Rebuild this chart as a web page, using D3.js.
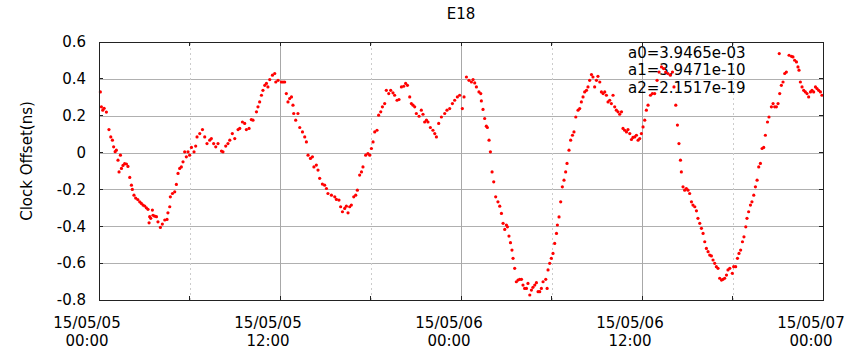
<!DOCTYPE html>
<html>
<head>
<meta charset="utf-8">
<script src="https://cdn.jsdelivr.net/npm/d3@7"></script>
<style>
  body { margin: 0; background: #fff; }
  svg { font-family: "DejaVu Sans", sans-serif; }
</style>
</head>
<body>
<div id="chart"></div>
<script>
// hours after 15/05/05 00:00
var hoursFromStart = [
  0.09,0.16,0.25,0.34,0.49,0.66,0.78,0.89,0.97,1.07,
  1.15,1.26,1.33,1.42,1.49,1.59,1.70,1.82,1.92,2.04,
  2.15,2.21,2.32,2.43,2.57,2.70,2.81,2.92,3.03,3.14,
  3.25,3.32,3.36,3.43,3.54,3.58,3.69,3.81,3.91,4.07,
  4.20,4.36,4.51,4.57,4.69,4.73,4.87,5.02,5.13,5.24,
  5.35,5.46,5.57,5.68,5.79,5.90,6.01,6.13,6.30,6.41,
  6.50,6.68,6.86,7.01,7.16,7.34,7.45,7.60,7.74,7.89,
  8.12,8.22,8.40,8.55,8.67,8.84,9.00,9.22,9.33,9.51,
  9.66,9.77,9.95,10.10,10.21,10.44,10.54,10.65,10.77,10.87,
  10.99,11.10,11.20,11.32,11.50,11.65,11.72,11.87,12.09,12.20,
  12.31,12.42,12.53,12.64,12.76,12.86,12.91,13.04,13.19,13.31,
  13.49,13.64,13.75,13.86,14.02,14.15,14.25,14.41,14.52,14.63,
  14.81,14.96,15.08,15.18,15.41,15.63,15.74,15.91,16.02,16.14,
  16.29,16.40,16.51,16.62,16.73,16.89,17.02,17.13,17.28,17.40,
  17.50,17.68,17.83,17.95,18.06,18.17,18.28,18.43,18.54,18.68,
  18.79,18.94,19.05,19.21,19.34,19.49,19.60,19.76,19.89,20.05,
  20.20,20.33,20.45,20.60,20.71,20.82,20.93,21.04,21.22,21.37,
  21.48,21.59,21.71,21.81,21.97,22.14,22.26,22.37,22.52,22.70,
  22.92,23.07,23.25,23.43,23.58,23.76,23.91,24.09,24.20,24.36,
  24.53,24.69,24.80,24.91,25.02,25.19,25.31,25.35,25.46,25.57,
  25.68,25.75,25.86,25.95,26.06,26.17,26.30,26.45,26.57,26.68,
  26.79,26.90,27.01,27.08,27.18,27.28,27.38,27.45,27.56,27.67,
  27.78,27.89,28.01,28.11,28.22,28.34,28.44,28.56,28.67,28.77,
  28.89,29.00,29.11,29.22,29.33,29.44,29.62,29.71,29.77,29.88,
  29.99,30.10,30.21,30.33,30.39,30.50,30.61,30.72,30.83,30.94,
  31.03,31.16,31.27,31.39,31.49,31.61,31.76,31.87,31.98,32.09,
  32.20,32.32,32.42,32.53,32.65,32.75,32.86,32.98,33.08,33.20,
  33.31,33.42,33.53,33.64,33.75,33.86,33.97,34.08,34.19,34.30,
  34.41,34.52,34.64,34.74,34.85,34.97,35.07,35.19,35.30,35.40,
  35.52,35.63,35.74,35.85,35.96,36.07,36.18,36.29,36.40,36.56,
  36.69,36.84,37.00,37.13,37.29,37.44,37.57,37.72,37.88,38.02,
  38.12,38.24,38.35,38.45,38.55,38.61,38.72,38.83,38.94,39.05,
  39.16,39.28,39.38,39.50,39.61,39.71,39.83,39.94,40.05,40.16,
  40.27,40.38,40.49,40.60,40.71,40.82,40.93,41.04,41.15,41.27,
  41.37,41.48,41.60,41.70,41.82,41.99,42.08,42.21,42.33,42.43,
  42.54,42.66,42.76,42.88,42.96,43.07,43.19,43.29,43.41,43.52,
  43.63,43.74,43.85,43.96,44.07,44.18,44.32,44.42,44.58,44.69,
  44.80,44.91,45.02,45.10,45.13,45.24,45.35,45.46,45.57,45.75,
  45.91,46.01,46.12,46.24,46.34,46.41,46.50,46.61,46.72,46.83,
  46.94,47.05,47.17,47.27,47.38,47.50,47.60,47.71,47.83,47.93
];

// clock offset in ns
var offsetNs = [
  0.329,0.248,0.23,0.24,0.22,0.125,0.085,0.067,0.031,0.005,
  0.013,-0.041,-0.105,-0.014,-0.086,-0.07,-0.06,-0.062,-0.075,-0.135,
  -0.177,-0.2,-0.231,-0.247,-0.255,-0.267,-0.276,-0.285,-0.29,-0.3,
  -0.308,-0.381,-0.348,-0.357,-0.312,-0.34,-0.345,-0.348,-0.376,-0.406,
  -0.388,-0.366,-0.363,-0.327,-0.294,-0.24,-0.222,-0.213,-0.173,-0.113,
  -0.086,-0.078,-0.05,0.004,-0.023,0.004,-0.014,0.028,0.004,0.035,
  0.085,0.103,0.125,0.085,0.049,0.067,0.076,0.049,0.031,0.049,
  0.008,0.004,0.035,0.049,0.067,0.103,0.076,0.125,0.131,0.166,
  0.158,0.125,0.131,0.179,0.176,0.221,0.248,0.275,0.311,0.338,
  0.365,0.375,0.356,0.396,0.42,0.429,0.383,0.392,0.383,0.383,
  0.383,0.32,0.275,0.293,0.302,0.257,0.212,0.176,0.212,0.136,
  0.112,0.085,0.058,-0.014,-0.032,-0.023,-0.078,-0.068,-0.095,-0.14,
  -0.171,-0.177,-0.195,-0.222,-0.231,-0.24,-0.254,-0.258,-0.294,-0.321,
  -0.303,-0.291,-0.327,-0.294,-0.285,-0.24,-0.231,-0.204,-0.122,-0.105,
  -0.078,-0.014,-0.005,-0.014,0.022,0.058,0.112,0.121,0.203,0.221,
  0.248,0.266,0.338,0.32,0.338,0.324,0.311,0.284,0.288,0.356,
  0.36,0.375,0.365,0.302,0.266,0.257,0.248,0.212,0.197,0.23,
  0.208,0.166,0.176,0.166,0.136,0.121,0.103,0.085,0.158,0.193,
  0.212,0.23,0.239,0.266,0.284,0.302,0.311,0.239,0.302,0.41,
  0.392,0.383,0.396,0.378,0.356,0.329,0.32,0.28,0.234,0.185,
  0.143,0.136,0.067,0.004,-0.105,-0.159,-0.24,-0.267,-0.291,-0.33,
  -0.384,-0.417,-0.393,-0.403,-0.453,-0.489,-0.529,-0.574,-0.628,-0.701,
  -0.692,-0.688,-0.688,-0.719,-0.737,-0.737,-0.71,-0.773,-0.746,-0.731,
  -0.719,-0.706,-0.755,-0.755,-0.737,-0.701,-0.688,-0.737,-0.637,-0.601,
  -0.574,-0.547,-0.493,-0.439,-0.393,-0.349,-0.267,-0.186,-0.15,-0.105,
  -0.059,0.013,0.067,0.094,0.112,0.193,0.23,0.239,0.275,0.302,
  0.329,0.338,0.356,0.392,0.423,0.41,0.356,0.392,0.414,0.383,
  0.329,0.32,0.329,0.311,0.275,0.284,0.266,0.311,0.248,0.23,
  0.221,0.208,0.221,0.131,0.121,0.112,0.125,0.103,0.071,0.082,
  0.085,0.094,0.067,0.076,0.103,0.139,0.176,0.23,0.257,0.311,
  0.32,0.32,0.392,0.437,0.465,0.456,0.437,0.429,0.42,0.437,
  0.356,0.257,0.149,0.049,-0.041,-0.105,-0.186,-0.204,-0.195,-0.204,
  -0.222,-0.267,-0.285,-0.294,-0.316,-0.357,-0.384,-0.411,-0.439,-0.484,
  -0.52,-0.538,-0.556,-0.561,-0.583,-0.601,-0.619,-0.628,-0.682,-0.692,
  -0.688,-0.682,-0.665,-0.637,-0.628,-0.655,-0.619,-0.619,-0.574,-0.547,
  -0.529,-0.484,-0.457,-0.403,-0.357,-0.321,-0.285,-0.267,-0.231,-0.186,
  -0.15,-0.078,-0.059,0.022,0.028,0.094,0.166,0.193,0.248,0.266,
  0.248,0.248,0.266,0.537,0.32,0.365,0.383,0.429,0.437,0.528,
  0.522,0.519,0.501,0.492,0.465,0.447,0.383,0.356,0.338,0.329,
  0.32,0.302,0.329,0.338,0.329,0.356,0.347,0.338,0.329,0.311
];

var yTicks = [0.6, 0.4, 0.2, 0, -0.2, -0.4, -0.6, -0.8];
var yTickLabels = ["0.6", "0.4", "0.2", "0", "-0.2", "-0.4", "-0.6", "-0.8"];
var fitLines = ["a0=3.9465e-03", "a1=3.9471e-10", "a2=2.1517e-19"];
var startTime = new Date(Date.UTC(2015, 4, 5, 0, 0));
var endTime = new Date(Date.UTC(2015, 4, 7, 0, 0));

var W = 856, H = 350;
var margin = { left: 99, right: 33, top: 42, bottom: 50 };
var width = W - margin.left - margin.right;
var height = H - margin.top - margin.bottom;

var data = hoursFromStart.map(function (h, i) {
  return { t: new Date(startTime.getTime() + h * 3600000), v: offsetNs[i] };
});

var x = d3.scaleUtc().domain([startTime, endTime]).range([0, width]);
var y = d3.scaleLinear().domain([-0.8, 0.6]).range([height, 0]);

var svg = d3.select("#chart").append("svg")
  .attr("width", W)
  .attr("height", H);

var g = svg.append("g")
  .attr("transform", "translate(" + margin.left + "," + margin.top + ")");

var majorTimes = d3.utcHour.every(12).range(startTime, new Date(endTime.getTime() + 1));
var minorTimes = d3.utcHour.every(6).range(startTime, new Date(endTime.getTime() + 1))
  .filter(function (d) { return d.getUTCHours() % 12 !== 0; });

// horizontal grid
g.append("g")
  .call(d3.axisLeft(y).tickValues(yTicks).tickSize(-width).tickFormat(""))
  .call(function (s) {
    s.select(".domain").remove();
    s.selectAll("line").attr("stroke", "#b0b0b0").attr("shape-rendering", "crispEdges");
  });

// vertical grid: dotted every 6h, solid every 12h
g.append("g")
  .attr("transform", "translate(0," + height + ")")
  .call(d3.axisBottom(x).tickValues(minorTimes).tickSize(-height).tickFormat(""))
  .call(function (s) {
    s.select(".domain").remove();
    s.selectAll("line").attr("stroke", "#cccccc").attr("stroke-dasharray", "2,3")
      .attr("shape-rendering", "crispEdges");
  });

g.append("g")
  .attr("transform", "translate(0," + height + ")")
  .call(d3.axisBottom(x).tickValues(majorTimes).tickSize(-height).tickFormat(""))
  .call(function (s) {
    s.select(".domain").remove();
    s.selectAll("line").attr("stroke", "#a8a8a8").attr("shape-rendering", "crispEdges");
  });

// fit coefficients (drawn under the points)
g.append("text")
  .attr("x", 529)
  .attr("y", 16)
  .attr("font-size", 15)
  .attr("fill", "#000")
  .selectAll("tspan")
  .data(fitLines)
  .enter().append("tspan")
  .attr("x", 529)
  .attr("dy", function (d, i) { return i === 0 ? 0 : 17.3; })
  .text(function (d) { return d; });

// points
g.selectAll(".pt")
  .data(data)
  .enter().append("circle")
  .attr("class", "pt")
  .attr("cx", function (d) { return x(d.t); })
  .attr("cy", function (d) { return y(d.v); })
  .attr("r", 1.6)
  .attr("fill", "#ff0000");

// frame
g.append("rect")
  .attr("x", 0.5).attr("y", 0.5)
  .attr("width", width).attr("height", height)
  .attr("fill", "none")
  .attr("stroke", "#222")
  .attr("shape-rendering", "crispEdges");

// inward tick marks
var allTimes = majorTimes.concat(minorTimes);
g.selectAll(".xtickb").data(allTimes).enter().append("line")
  .attr("x1", function (d) { return x(d); }).attr("x2", function (d) { return x(d); })
  .attr("y1", height).attr("y2", height - 4)
  .attr("stroke", "#222").attr("shape-rendering", "crispEdges");
g.selectAll(".xtickt").data(allTimes).enter().append("line")
  .attr("x1", function (d) { return x(d); }).attr("x2", function (d) { return x(d); })
  .attr("y1", 0).attr("y2", 4)
  .attr("stroke", "#222").attr("shape-rendering", "crispEdges");
g.selectAll(".ytickl").data(yTicks).enter().append("line")
  .attr("x1", 0).attr("x2", 4)
  .attr("y1", function (d) { return y(d); }).attr("y2", function (d) { return y(d); })
  .attr("stroke", "#222").attr("shape-rendering", "crispEdges");
g.selectAll(".ytickr").data(yTicks).enter().append("line")
  .attr("x1", width).attr("x2", width - 4)
  .attr("y1", function (d) { return y(d); }).attr("y2", function (d) { return y(d); })
  .attr("stroke", "#222").attr("shape-rendering", "crispEdges");

// y tick labels
g.append("g")
  .call(d3.axisLeft(y).tickValues(yTicks).tickSize(0).tickPadding(13)
    .tickFormat(function (d, i) { return yTickLabels[i]; }))
  .call(function (s) {
    s.select(".domain").remove();
    s.selectAll("text").attr("font-size", 15).attr("font-family", "DejaVu Sans")
      .attr("fill", "#000");
  });

// x tick labels, two lines
var fmtDate = d3.utcFormat("%y/%m/%d");
var fmtTime = d3.utcFormat("%H:%M");
var xl = g.selectAll(".xlab").data(majorTimes).enter().append("text")
  .attr("class", "xlab")
  .attr("text-anchor", "middle")
  .attr("font-size", 15)
  .attr("fill", "#000");
xl.append("tspan")
  .attr("x", function (d) { return x(d) - 12; })
  .attr("y", height + 28)
  .text(function (d) { return fmtDate(d); });
xl.append("tspan")
  .attr("x", function (d) { return x(d) - 12; })
  .attr("y", height + 45.5)
  .text(function (d) { return fmtTime(d); });

// title
svg.append("text")
  .attr("x", margin.left + width / 2)
  .attr("y", 19)
  .attr("text-anchor", "middle")
  .attr("font-size", 15)
  .text("E18");

// y label
svg.append("text")
  .attr("transform", "translate(32,161) rotate(-90)")
  .attr("text-anchor", "middle")
  .attr("font-size", 15)
  .text("Clock Offset(ns)");
</script>
</body>
</html>
